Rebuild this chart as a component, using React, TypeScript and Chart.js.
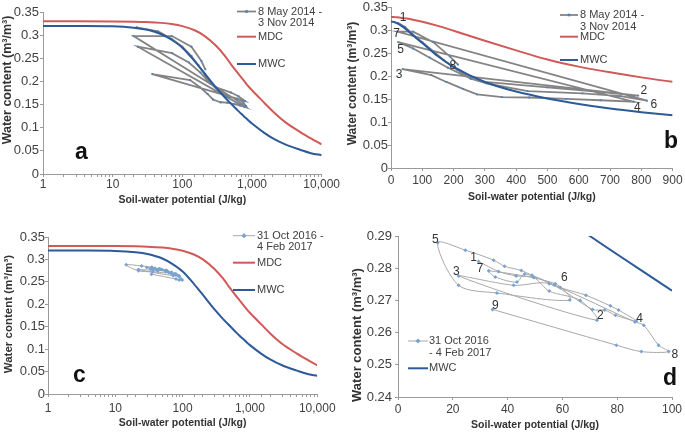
import React, { useEffect, useRef } from 'react';
import { Chart, registerables } from 'chart.js';
Chart.register(...registerables);

// ---------- data ----------
const curvePotential = [0, 1, 3, 10, 20, 30, 50, 70, 100, 150, 200, 300, 400, 500, 600, 700, 800, 900, 1000, 1500, 2000, 3000, 5000, 7000, 10000];
const mdcWater = [0.33, 0.33, 0.33, 0.3297, 0.3292, 0.3285, 0.3265, 0.324, 0.3195, 0.3105, 0.3, 0.278, 0.257, 0.237, 0.2215, 0.209, 0.198, 0.1885, 0.181, 0.154, 0.135, 0.112, 0.09, 0.077, 0.064];
const mwcWater = [0.32, 0.32, 0.3198, 0.319, 0.316, 0.312, 0.302, 0.29, 0.273, 0.244, 0.221, 0.188, 0.167, 0.152, 0.14, 0.13, 0.122, 0.115, 0.109, 0.089, 0.077, 0.064, 0.052, 0.045, 0.0405];

const potential2014 = [22, 45, 70, 100, 135, 170, 210, 255, 300, 500, 638, 790, 37, 129, 177, 230, 275, 355, 442, 560, 670, 775, 23, 71, 124, 182, 255, 305, 437, 612, 734, 818, 20, 71, 135, 188, 214];
const water2014 = [0.317, 0.308, 0.292, 0.275, 0.255, 0.235, 0.215, 0.196, 0.188, 0.176, 0.168, 0.158, 0.216, 0.203, 0.188, 0.173, 0.161, 0.155, 0.154, 0.151, 0.148, 0.145, 0.275, 0.261, 0.241, 0.219, 0.195, 0.185, 0.168, 0.163, 0.157, 0.147, 0.298, 0.298, 0.275, 0.244, 0.226];

const potential2016 = [29.4, 36.7, 43.1, 49.5, 55.2, 66.5, 72.6, 22.1, 42.2, 55.2, 71.0, 75.4, 79.4, 87.0, 80.5, 77.5, 68.6, 59.2, 48.9, 45.0, 38.9, 34.9, 24.6, 14.5, 22.1, 36.1, 62.7, 57.4, 33.1, 35.5, 43.4, 46.2, 57.0, 86.5, 89.7, 95.1, 98.8, 88.8, 79.7, 34.5];
const water2016 = [0.2821, 0.279, 0.2776, 0.2771, 0.2729, 0.27, 0.2638, 0.2776, 0.2747, 0.2752, 0.2672, 0.267, 0.2654, 0.2636, 0.267, 0.2683, 0.2716, 0.274, 0.2778, 0.2793, 0.2806, 0.2825, 0.2856, 0.2879, 0.2747, 0.2723, 0.2701, 0.2752, 0.2792, 0.2773, 0.2757, 0.2782, 0.2748, 0.2633, 0.2623, 0.2561, 0.2541, 0.2541, 0.2561, 0.2672];

const labels2014 = ['1', '2', '3', '4', '5', '6', '7', '8'];
const labelPotential2014 = [39, 808, 26, 787, 31, 840, 18, 198];
const labelWater2014 = [0.328, 0.1685, 0.203, 0.1324, 0.2586, 0.1376, 0.294, 0.2225];

const labels2016 = ['1', '2', '3', '4', '5', '6', '7', '8', '9'];
const labelPotential2016 = [27.6, 73.8, 21.3, 88.2, 13.6, 60.7, 30, 101, 35.5];
const labelWater2016 = [0.2832, 0.2654, 0.279, 0.2642, 0.289, 0.277, 0.2799, 0.2532, 0.2683];

const seriesName2014 = ['8 May 2014 -', '3 Nov 2014'];
const seriesName2016c = ['31 Oct 2016 -', '4 Feb 2017'];
const seriesName2016d = ['31 Oct 2016', '- 4 Feb 2017'];
const mdcName = 'MDC';
const mwcName = 'MWC';
const yTitleText = 'Water content (m\u00b3/m\u00b3)';
const xTitleText = 'Soil-water potential (J/kg)';

// ---------- styles ----------
const FONT = "'Liberation Sans', Arial, Helvetica, sans-serif";
const TEXT = '#404040';
const TITLE = '#333333';
const AXIS = '#9a9a9a';
const RED = '#d05a58';
const BLUE = '#2d5a98';

const zip = (xs: number[], ys: number[], positive: boolean) =>
  xs.map((x, i) => ({ x, y: ys[i] })).filter((p) => !positive || p.x > 0);

type LegendItem = { kind: 'series' | 'mdc' | 'mwc'; lines: string[]; y: number };
type Spec = {
  left: number; top: number; w: number; h: number;
  area: [number, number, number, number];
  log: boolean; xMin: number; xMax: number; xStep?: number;
  yMin: number; yMax: number; yStep: number; yFixed: boolean;
  xTickPad: number; xTitlePad: number; yTickPad: number;
  yTitle: { cx: number; cy: number; size: number };
  letter: { text: string; x: number; y: number };
  legend: { x1: number; x2: number; tx: number; items: LegendItem[] };
  measured: { xs: number[]; ys: number[]; line: string; width: number; point: string; tension: number; style: string; radius: number };
  curves: ('mdc' | 'mwc')[];
  numbers?: { texts: string[]; xs: number[]; ys: number[] };
};

const style2014 = { line: '#848484', width: 1.8, point: '#4f81bd', tension: 0, style: 'rect', radius: 1.3 };
const style2016 = { line: '#a8a8a8', width: 1, point: '#7ba3d0', tension: 0.3, style: 'rectRot', radius: 2 };

const specs: Spec[] = [
  {
    left: 0, top: 0, w: 340, h: 215, area: [43, 12, 322, 174],
    log: true, xMin: 1, xMax: 10000, yMin: 0, yMax: 0.35, yStep: 0.05, yFixed: false,
    xTickPad: 0, xTitlePad: 8.7, yTickPad: 1,
    yTitle: { cx: 8, cy: 80, size: 12.5 },
    letter: { text: 'a', x: 81.5, y: 159 },
    legend: { x1: 237, x2: 256, tx: 258, items: [
      { kind: 'series', lines: seriesName2014, y: 11.5 },
      { kind: 'mdc', lines: [mdcName], y: 36.7 },
      { kind: 'mwc', lines: [mwcName], y: 64 },
    ] },
    measured: { xs: potential2014, ys: water2014, ...style2014 },
    curves: ['mdc', 'mwc'],
  },
  {
    left: 340, top: 0, w: 345, h: 215, area: [51, 6, 334, 168],
    log: false, xMin: 0, xMax: 900, xStep: 100, yMin: 0, yMax: 0.35, yStep: 0.05, yFixed: false,
    xTickPad: 2.4, xTitlePad: 11.7, yTickPad: 0,
    yTitle: { cx: 12.5, cy: 83.5, size: 12 },
    letter: { text: 'b', x: 331, y: 148 },
    legend: { x1: 220, x2: 238, tx: 240, items: [
      { kind: 'series', lines: seriesName2014, y: 15 },
      { kind: 'mdc', lines: [mdcName], y: 36.7 },
      { kind: 'mwc', lines: [mwcName], y: 60 },
    ] },
    measured: { xs: potential2014, ys: water2014, ...style2014 },
    curves: ['mdc', 'mwc'],
    numbers: { texts: labels2014, xs: labelPotential2014, ys: labelWater2014 },
  },
  {
    left: 0, top: 215, w: 340, h: 217, area: [48, 22, 323, 179],
    log: true, xMin: 1, xMax: 10000, yMin: 0, yMax: 0.35, yStep: 0.05, yFixed: false,
    xTickPad: 4.4, xTitlePad: 2.7, yTickPad: 0,
    yTitle: { cx: 9.2, cy: 99, size: 11.5 },
    letter: { text: 'c', x: 79.5, y: 167 },
    legend: { x1: 233, x2: 255, tx: 257, items: [
      { kind: 'series', lines: seriesName2016c, y: 20.7 },
      { kind: 'mdc', lines: [mdcName], y: 47.7 },
      { kind: 'mwc', lines: [mwcName], y: 75 },
    ] },
    measured: { xs: potential2016, ys: water2016, ...style2016 },
    curves: ['mdc', 'mwc'],
  },
  {
    left: 340, top: 215, w: 345, h: 217, area: [58, 21, 332, 182],
    log: false, xMin: 0, xMax: 100, xStep: 20, yMin: 0.24, yMax: 0.29, yStep: 0.01, yFixed: true,
    xTickPad: 2.4, xTitlePad: 0.7, yTickPad: 3,
    yTitle: { cx: 17.5, cy: 120, size: 13 },
    letter: { text: 'd', x: 330, y: 170 },
    legend: { x1: 68, x2: 88, tx: 89, items: [
      { kind: 'series', lines: seriesName2016d, y: 126 },
      { kind: 'mwc', lines: [mwcName], y: 153.3 },
    ] },
    measured: { xs: potential2016, ys: water2016, ...style2016 },
    curves: ['mwc'],
    numbers: { texts: labels2016, xs: labelPotential2016, ys: labelWater2016 },
  },
];

function isPow10(v: number) {
  const l = Math.log10(v);
  return Math.abs(l - Math.round(l)) < 1e-9;
}

function drawMarker(ctx: CanvasRenderingContext2D, style: string, x: number, y: number, r: number, color: string) {
  ctx.fillStyle = color;
  ctx.beginPath();
  if (style === 'rectRot') {
    ctx.moveTo(x, y - r * 1.3); ctx.lineTo(x + r * 1.3, y); ctx.lineTo(x, y + r * 1.3); ctx.lineTo(x - r * 1.3, y);
  } else {
    ctx.rect(x - r, y - r, 2 * r, 2 * r);
  }
  ctx.closePath();
  ctx.fill();
}

function makeChart(canvas: HTMLCanvasElement, spec: Spec) {
  const [al, at, ar, ab] = spec.area;
  const positive = spec.log;
  const datasets: any[] = [];
  const curveList = spec.curves.slice().reverse(); // MWC drawn on top
  curveList.forEach((c) => {
    datasets.push({
      label: c === 'mdc' ? mdcName : mwcName,
      data: zip(curvePotential, c === 'mdc' ? mdcWater : mwcWater, positive),
      showLine: true,
      borderColor: c === 'mdc' ? RED : BLUE,
      borderWidth: 2,
      pointRadius: 0,
      cubicInterpolationMode: 'monotone',
      fill: false,
    });
  });
  const m = spec.measured;
  datasets.push({
    label: 'measured',
    data: zip(m.xs, m.ys, positive),
    showLine: true,
    borderColor: m.line,
    borderWidth: m.width,
    tension: m.tension,
    pointStyle: m.style,
    pointRadius: m.radius,
    pointBackgroundColor: m.point,
    pointBorderColor: m.point,
    pointBorderWidth: 0,
    fill: false,
  });

  const xScale: any = {
    type: spec.log ? 'logarithmic' : 'linear',
    min: spec.xMin,
    max: spec.xMax,
    grid: { display: true, drawOnChartArea: false, drawTicks: true, tickLength: 3, color: AXIS },
    border: { display: true, color: AXIS, width: 1 },
    ticks: {
      autoSkip: false,
      maxRotation: 0,
      font: { family: FONT, size: 12 },
      color: TEXT,
      padding: spec.xTickPad,
      callback: spec.log
        ? (v: any) => (isPow10(Number(v)) ? Number(v).toLocaleString('en-US') : '')
        : (v: any) => String(v),
    },
    title: {
      display: true,
      text: xTitleText,
      font: { family: FONT, size: 10.5, weight: 'bold' },
      color: TITLE,
      padding: { top: 0, bottom: spec.xTitlePad },
    },
    afterFit: (s: any) => { s.height = spec.h - ab; },
  };
  if (!spec.log) xScale.ticks.stepSize = spec.xStep;

  const yScale: any = {
    type: 'linear',
    min: spec.yMin,
    max: spec.yMax,
    grid: { display: true, drawOnChartArea: false, drawTicks: true, tickLength: 3, color: AXIS },
    border: { display: true, color: AXIS, width: 1 },
    ticks: {
      stepSize: spec.yStep,
      font: { family: FONT, size: 13 },
      color: TEXT,
      padding: spec.yTickPad,
      callback: (v: any) => (spec.yFixed ? Number(v).toFixed(2) : String(parseFloat(Number(v).toFixed(2)))),
    },
    afterFit: (s: any) => { s.width = al; },
  };

  const overlay = {
    id: 'overlay',
    afterDraw(chart: any) {
      const ctx: CanvasRenderingContext2D = chart.ctx;
      // y title
      ctx.save();
      ctx.translate(spec.yTitle.cx, spec.yTitle.cy);
      ctx.rotate(-Math.PI / 2);
      ctx.font = `bold ${spec.yTitle.size}px ${FONT}`;
      ctx.fillStyle = TITLE;
      ctx.textAlign = 'center';
      ctx.textBaseline = 'middle';
      ctx.fillText(yTitleText, 0, 0);
      ctx.restore();

      // panel letter
      ctx.save();
      ctx.font = `bold 23px ${FONT}`;
      ctx.fillStyle = '#111';
      ctx.textAlign = 'center';
      ctx.textBaseline = 'alphabetic';
      ctx.fillText(spec.letter.text, spec.letter.x, spec.letter.y);
      ctx.restore();

      // legend
      const lg = spec.legend;
      ctx.save();
      ctx.font = `11px ${FONT}`;
      ctx.textAlign = 'left';
      ctx.textBaseline = 'middle';
      lg.items.forEach((it) => {
        const color = it.kind === 'series' ? m.line : it.kind === 'mdc' ? RED : BLUE;
        ctx.strokeStyle = color;
        ctx.lineWidth = it.kind === 'series' ? m.width : 2;
        ctx.beginPath();
        ctx.moveTo(lg.x1, it.y);
        ctx.lineTo(lg.x2, it.y);
        ctx.stroke();
        if (it.kind === 'series') drawMarker(ctx, m.style, (lg.x1 + lg.x2) / 2, it.y, m.radius, m.point);
        ctx.fillStyle = TEXT;
        it.lines.forEach((t, i) => ctx.fillText(t, lg.tx, it.y + i * 11.5));
      });
      ctx.restore();

      // numbered turning points
      if (spec.numbers) {
        const xs = chart.scales.x;
        const ys = chart.scales.y;
        ctx.save();
        ctx.font = `12px ${FONT}`;
        ctx.fillStyle = '#333';
        ctx.textAlign = 'center';
        ctx.textBaseline = 'middle';
        spec.numbers.texts.forEach((t, i) => {
          ctx.fillText(t, xs.getPixelForValue(spec.numbers!.xs[i]), ys.getPixelForValue(spec.numbers!.ys[i]));
        });
        ctx.restore();
      }
    },
  };

  return new Chart(canvas, {
    type: 'scatter',
    data: { datasets },
    options: {
      animation: false,
      responsive: false,
      maintainAspectRatio: false,
      devicePixelRatio: 1,
      layout: { padding: { left: 0, top: at, right: spec.w - ar, bottom: 0 } },
      plugins: { legend: { display: false }, tooltip: { enabled: false } },
      scales: { x: xScale, y: yScale },
    } as any,
    plugins: [overlay],
  });
}

function Panel({ spec }: { spec: Spec }) {
  const ref = useRef<HTMLCanvasElement>(null);
  useEffect(() => {
    if (!ref.current) return;
    const chart = makeChart(ref.current, spec);
    return () => chart.destroy();
  }, [spec]);
  return (
    <canvas
      ref={ref}
      width={spec.w}
      height={spec.h}
      style={{ position: 'absolute', left: spec.left, top: spec.top, width: spec.w, height: spec.h, display: 'block' }}
    />
  );
}

export default function App() {
  return (
    <div style={{ position: 'absolute', left: 0, top: 0, width: 685, height: 432, background: '#fff', overflow: 'hidden' }}>
      {specs.map((s, i) => (
        <Panel key={i} spec={s} />
      ))}
    </div>
  );
}
